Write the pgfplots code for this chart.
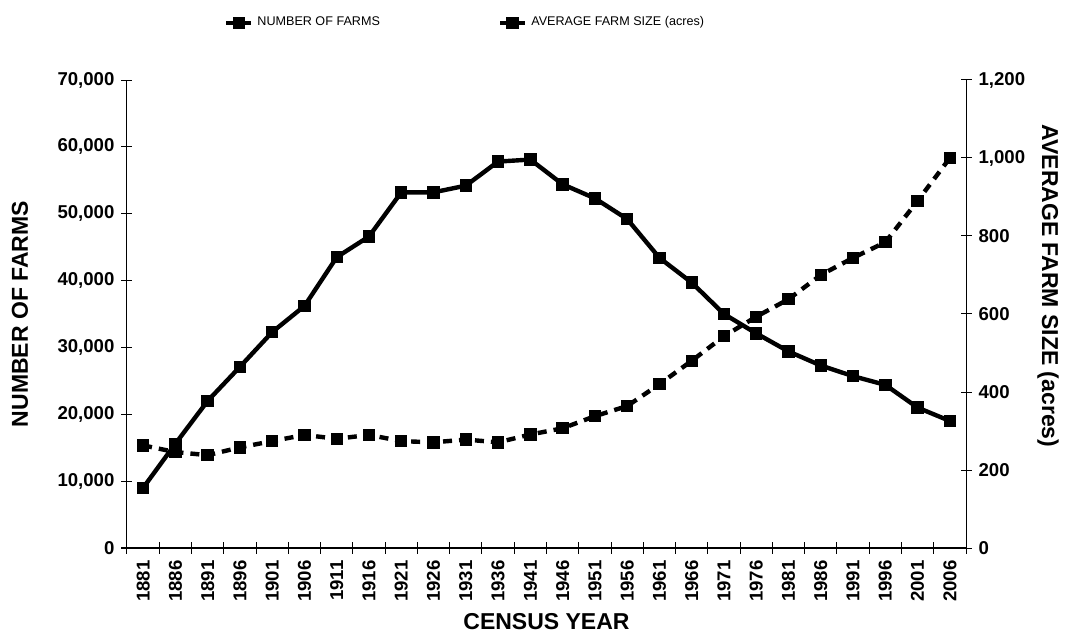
\documentclass[border=0pt]{standalone}
\usepackage{fontspec}
\setmainfont{Liberation Sans}
\usepackage{pgfplots}
\pgfplotsset{compat=1.18}
\pgfplotsset{
  common/.style={
    scale only axis, width=419.5pt, height=234pt,
    xmin=-0.5, xmax=25.5, ymin=0,
    tick align=center, major tick length=5.5pt, minor tick length=5.5pt,
    ticklabel style={font=\fontsize{9.3}{10}\selectfont\bfseries},
    /pgf/number format/assume math mode=true,
    /pgf/number format/1000 sep={,},
    tick style={black, line width=0.5pt},
    axis line style={line width=0.5pt},
    label style={font=\fontsize{11.5}{13}\selectfont\bfseries},
    scaled y ticks=false,
    legend image code/.code={\draw[mark repeat=2,mark phase=2,#1] plot coordinates {(0pt,0pt) (6.25pt,0pt) (12.5pt,0pt)};},
  },
  farms/.style={black, line width=2.2pt, mark=square*, mark size=2pt},
  size/.style={black, line width=2.2pt, dash pattern=on 4.5pt off 3.5pt, mark=square*, mark size=2pt, mark options={solid}},
}
\begin{document}
\begin{tikzpicture}
\begin{axis}[common,
  axis y line*=left, axis x line*=bottom,
  ymax=70000, ytick={0,10000,...,70000},
  xtick={0,...,25},
  xticklabels={1881,1886,1891,1896,1901,1906,1911,1916,1921,1926,1931,1936,1941,1946,1951,1956,1961,1966,1971,1976,1981,1986,1991,1996,2001,2006},
  major x tick style={draw=none},
  minor xtick={-0.5,0.5,...,25.5},
  x tick label style={rotate=90, anchor=east},
  xlabel={CENSUS YEAR}, ylabel={NUMBER OF FARMS},
  xlabel style={at={(axis description cs:0.5,-0.1565)}, anchor=center},
  ylabel style={at={(axis description cs:-0.1275,0.5)}, anchor=center},
  legend style={at={(axis description cs:0.108,1.122)}, anchor=west, draw=none, fill=none,
    legend columns=2, font=\fontsize{6.3}{7.5}\selectfont,
    /tikz/every even column/.append style={column sep=57pt}},
]
\addplot[farms] coordinates {
(0,9000) (1,15600) (2,22000) (3,27100) (4,32300) (5,36200) (6,43500) (7,46600)
(8,53200) (9,53200) (10,54200) (11,57800) (12,58100) (13,54400) (14,52300) (15,49200)
(16,43400) (17,39700) (18,35000) (19,32100) (20,29400) (21,27300) (22,25700) (23,24400)
(24,21000) (25,19000)};
\addlegendentry{NUMBER OF FARMS}
\addlegendimage{size}
\addlegendentry{AVERAGE FARM SIZE (acres)}
\end{axis}
\begin{axis}[common,
  axis y line*=right, axis x line=none,
  ymax=1200, ytick={0,200,...,1200},
  ylabel={AVERAGE FARM SIZE (acres)},
  ylabel style={at={(axis description cs:1.0977,0.56)}, anchor=center, rotate=180},
]
\addplot[size] coordinates {
(0,263) (1,246) (2,238) (3,258) (4,274) (5,290) (6,280) (7,290)
(8,274) (9,271) (10,278) (11,271) (12,291) (13,307) (14,338) (15,364)
(16,420) (17,480) (18,543) (19,593) (20,638) (21,700) (22,744) (23,784)
(24,890) (25,1000)};
\end{axis}
\pgfresetboundingbox
\path[use as bounding box] (-63.5pt,-42pt) rectangle (469.5pt,274pt);
\end{tikzpicture}
\end{document}
